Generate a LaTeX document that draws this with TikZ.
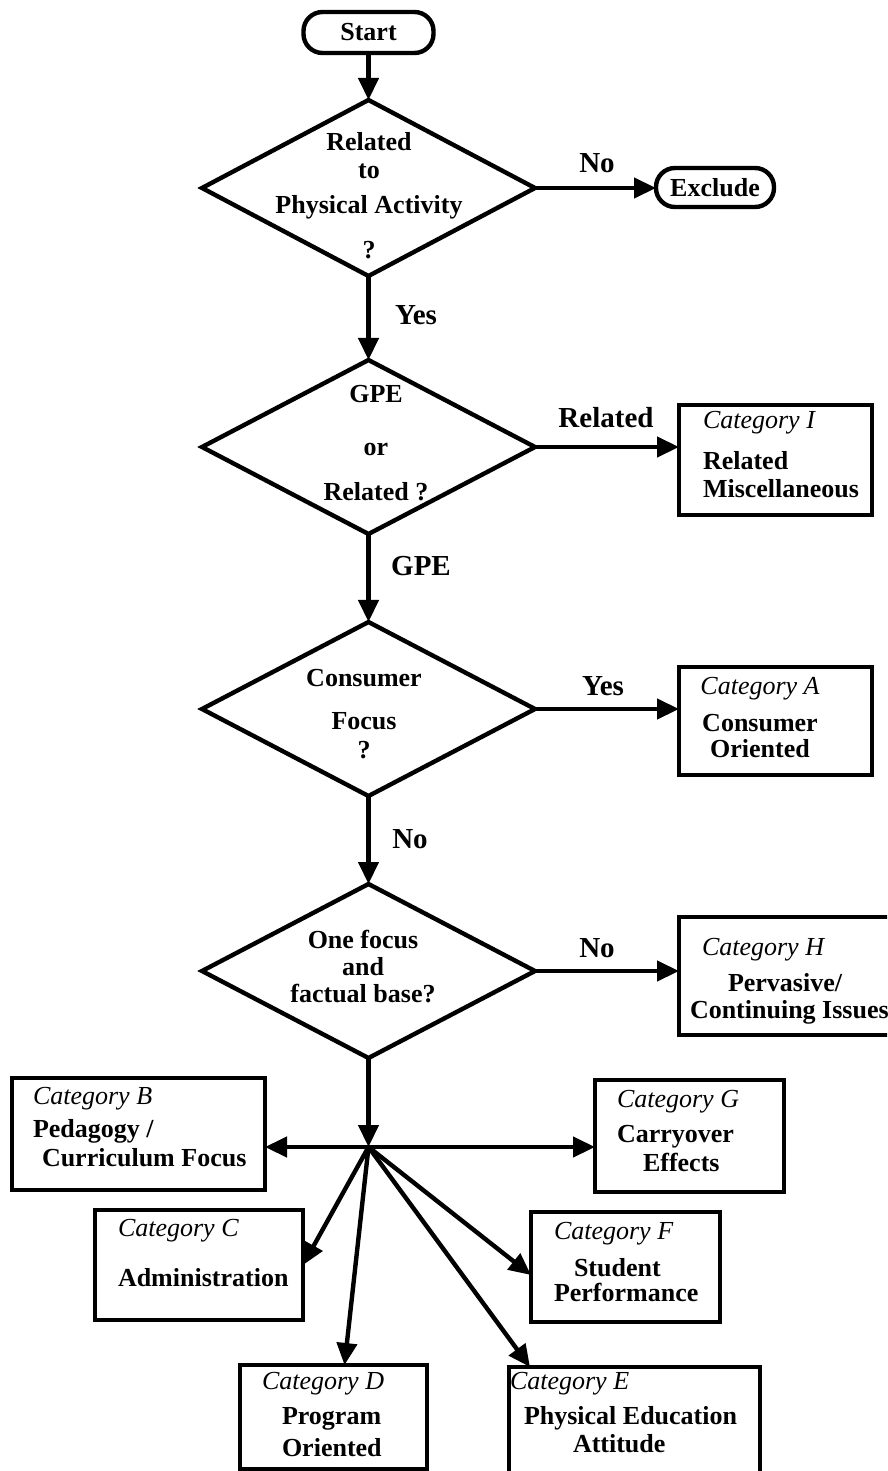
\documentclass[tikz,border=0pt]{standalone}
\usepackage{fontspec}
\setmainfont{Liberation Serif}
\usetikzlibrary{arrows.meta,shapes.geometric,calc}
\newcommand\txtfont{\fontsize{26}{26}\selectfont\bfseries}
\newcommand\labfont{\fontsize{29}{29}\selectfont\bfseries}
\newcommand\catname[1]{{\mdseries\itshape Category #1}}
\begin{document}
\begin{tikzpicture}[x=1pt,y=-1pt,
  line width=4.4pt,
  arr/.style={-{Triangle[length=22pt,width=20pt]}},
  dia/.style={draw,diamond,minimum width=333pt,minimum height=174pt,inner sep=0pt,outer sep=0pt},
  term/.style={draw,rounded corners=19pt,inner sep=0pt,outer sep=0pt,font=\txtfont},
  cat/.style={draw,rectangle,inner sep=0pt,outer sep=0pt},
  txt/.style={inner sep=0pt,outer sep=0pt,font=\txtfont},
  lab/.style={inner sep=0pt,font=\labfont,anchor=base}]
\useasboundingbox (0,0) rectangle (887,1471);
\clip (0,0) rectangle (887,1471);

% terminals
\node[term,minimum width=130pt,minimum height=41pt] (start) at (368.5,32.5) {Start};
\node[term,minimum width=118pt,minimum height=39pt] (excl) at (715,187.5) {Exclude};

% decisions
\node[dia,minimum height=176pt] (d1) at (368.5,188) {};
\node[dia] (d2) at (368.5,447) {};
\node[dia] (d3) at (368.5,709) {};
\node[dia] (d4) at (368.5,971) {};

\node[txt,anchor=north,align=center] (d1t) at (369,132) {Related\\[2pt]to\\[9pt]Physical Activity\\[19pt]?};
\node[txt,anchor=north,align=center] (d2t) at (376,385) {GPE\\[27pt]or\\[19pt]Related ?};
\node[txt,anchor=north,align=center] (d3t) at (364,669) {Consumer\\[17pt]Focus\\[3pt]?};
\node[txt,anchor=north,align=center] (d4t) at (363,930) {One focus\\[1pt]and\\[1pt]factual base?};

% category boxes
\node[cat,minimum width=193pt,minimum height=110pt] (I) at (775.5,460) {};
\node[cat,minimum width=193pt,minimum height=108pt] (A) at (775.5,721) {};
\node[cat,minimum width=226pt,minimum height=118pt] (H) at (792,976) {};
\node[cat,minimum width=189pt,minimum height=112pt] (G) at (689.5,1136) {};
\node[cat,minimum width=253pt,minimum height=112pt] (B) at (138.5,1134) {};
\node[cat,minimum width=208pt,minimum height=110pt] (C) at (199,1265) {};
\node[cat,minimum width=187pt,minimum height=104pt] (D) at (333.5,1417) {};
\node[cat,minimum width=189pt,minimum height=110pt] (F) at (625.5,1267) {};
\node[cat,minimum width=251pt,minimum height=123pt] (E) at (634.5,1428.5) {};

\node[txt,anchor=north west,align=left] (It) at (703,411) {\catname{I}\\[15pt]Related\\[2pt]Miscellaneous};
\node[txt,anchor=north,align=center] (At) at (760,677) {\catname{A}\\[11pt]Consumer\\[0pt]Oriented};
\node[txt,anchor=north west,align=left] (Ht) at (690,938) {\hspace*{12pt}\catname{H}\\[10pt]\hspace*{38pt}Pervasive/\\[1pt]Continuing Issues};
\node[txt,anchor=north west,align=left] (Gt) at (617,1090) {\catname{G}\\[9pt]Carryover\\[3pt]\hspace*{26pt}Effects};
\node[txt,anchor=north west,align=left] (Bt) at (33,1087) {\catname{B}\\[7pt]Pedagogy /\\[3pt]\hspace*{9pt}Curriculum Focus};
\node[txt,anchor=north west,align=left] (Ct) at (118,1219) {\catname{C}\\[24pt]Administration};
\node[txt,anchor=north west,align=left] (Dt) at (262,1372) {\catname{D}\\[9pt]\hspace*{20pt}Program\\[6pt]\hspace*{20pt}Oriented};
\node[txt,anchor=north west,align=left] (Ft) at (554,1222) {\catname{F}\\[11pt]\hspace*{20pt}Student\\[-1pt]Performance};
\node[txt,anchor=north west,align=left] (Et) at (510,1372) {\catname{E}\\[9pt]\hspace*{14pt}Physical Education\\[2pt]\hspace*{63pt}Attitude};

% junction
\coordinate (J) at (368.5,1147);

% connectors
\draw[arr] (start) -- (d1);
\draw[arr] (d1.east) -- (d1.east -| excl.west);
\draw[arr] (d1) -- (d2);
\draw[arr] (d2.east) -- (d2.east -| I.west);
\draw[arr] (d2) -- (d3);
\draw[arr] (d3.east) -- (d3.east -| A.west);
\draw[arr] (d3) -- (d4);
\draw[arr] (d4.east) -- (d4.east -| H.west);
\draw[arr] (d4.south) -- (J);
\draw[arr] (J) -- (J -| B.east);
\draw[arr] (J) -- (J -| G.west);
\draw[arr] (J) -- (C.east);
\draw[arr] (J) -- ([xshift=11pt]D.north);
\draw[arr] (J) -- ([yshift=-8pt]F.west);
\draw[arr] (J) -- ([xshift=21pt]E.north west);

% labels
\node[lab] (lNo1) at (597,173) {No};
\node[lab] (lYes1) at (416,324) {Yes};
\node[lab] (lRel) at (606,427) {Related};
\node[lab] (lGPE) at (421,575) {GPE};
\node[lab] (lYes2) at (603,695) {Yes};
\node[lab] (lNo2) at (410,848) {No};
\node[lab] (lNo3) at (597,957) {No};
\end{tikzpicture}
\end{document}
